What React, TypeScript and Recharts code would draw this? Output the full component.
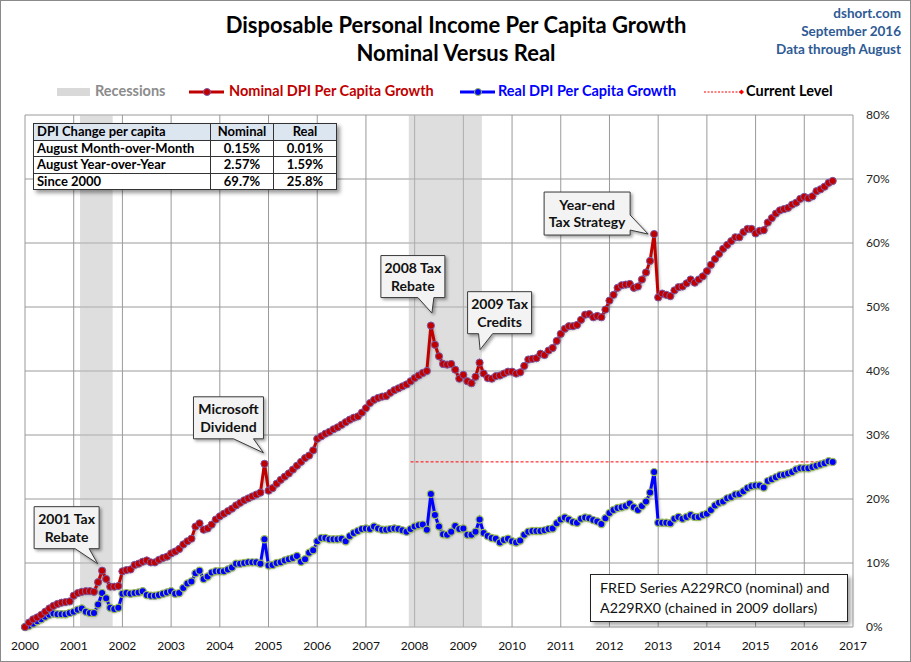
import React from "react";
import {
  ComposedChart,
  Line,
  XAxis,
  YAxis,
  CartesianGrid,
  ReferenceArea,
  ReferenceDot,
} from "recharts";

// % change since Jan 2000, monthly Jan 2000 .. Aug 2016
const nominalGrowth = [
  0, 0.7, 1.2, 1.5, 1.9, 2.4, 2.9, 3.3, 3.6, 3.8, 3.9, 4.0, // 2000
  4.9, 5.3, 5.5, 5.6, 5.6, 5.5, 7.0, 8.8, 7.5, 6.3, 6.3, 6.4, // 2001
  8.7, 8.9, 9.0, 9.7, 9.9, 10.2, 10.4, 10.1, 10.1, 10.5, 10.8, 11.0, // 2002
  11.5, 11.8, 12.2, 12.9, 13.4, 13.8, 15.7, 16.2, 15.2, 15.4, 16.0, 16.8, // 2003
  17.3, 17.7, 18.1, 18.5, 19.0, 19.4, 19.8, 20.1, 20.4, 20.7, 21.0, 25.5, // 2004
  21.3, 21.7, 22.4, 23.0, 23.5, 24.0, 24.6, 25.2, 25.8, 26.4, 26.8, 27.6, // 2005
  29.4, 29.8, 30.2, 30.5, 30.9, 31.2, 31.6, 32.0, 32.4, 32.7, 32.9, 33.5, // 2006
  34.2, 35.0, 35.5, 35.8, 36.0, 36.1, 36.6, 37.0, 37.3, 37.6, 37.9, 38.4, // 2007
  38.9, 39.3, 39.7, 40.0, 47.1, 44.1, 42.3, 41.1, 41.0, 41.1, 40.2, 38.8, // 2008
  39.4, 38.4, 38.1, 39.1, 41.3, 39.6, 38.9, 38.8, 39.2, 39.3, 39.6, 39.9, // 2009
  39.9, 39.6, 39.8, 40.8, 41.8, 41.9, 42.0, 42.7, 42.5, 43.2, 43.6, 44.7, // 2010
  45.8, 46.6, 47.0, 47.0, 47.2, 48.0, 48.8, 48.9, 48.4, 48.6, 48.4, 49.6, // 2011
  51.0, 51.9, 53.0, 53.4, 53.5, 53.6, 53.0, 53.2, 54.3, 55.4, 57.2, 61.4, // 2012
  51.5, 52.1, 51.9, 51.7, 52.6, 53.1, 53.2, 53.7, 54.3, 53.8, 54.3, 54.8, // 2013
  55.6, 56.6, 57.5, 58.3, 59.1, 59.7, 60.3, 60.9, 60.9, 61.7, 62.2, 62.2, // 2014
  61.5, 61.9, 62.0, 63.2, 63.9, 64.6, 65.1, 65.3, 65.5, 66.0, 66.3, 66.9, // 2015
  67.2, 67.0, 67.3, 68.1, 68.4, 68.8, 69.4, 69.7, // 2016
];

const realGrowth = [
  0, 0.2, 0.5, 0.9, 1.2, 1.6, 1.9, 2.1, 2.0, 2.0, 2.0, 2.2, // 2000
  2.4, 2.7, 2.9, 2.4, 2.2, 2.2, 3.5, 5.3, 4.5, 3.0, 2.8, 3.0, // 2001
  5.2, 5.3, 5.2, 5.3, 5.4, 5.6, 5.0, 4.9, 4.9, 5.0, 5.2, 5.4, // 2002
  5.6, 5.2, 5.3, 6.1, 6.8, 7.1, 8.4, 8.8, 7.5, 7.9, 8.5, 8.7, // 2003
  8.7, 8.7, 9.0, 9.3, 9.9, 9.9, 10.0, 10.1, 10.1, 10.1, 9.9, 13.7, // 2004
  9.6, 9.7, 10.0, 10.1, 10.4, 10.6, 10.8, 11.1, 10.2, 10.6, 11.6, 12.0, // 2005
  13.4, 13.9, 13.9, 13.7, 13.7, 13.7, 13.8, 13.4, 14.2, 14.7, 15.0, 15.3, // 2006
  15.4, 15.3, 15.7, 15.4, 15.2, 15.2, 15.3, 15.4, 15.3, 15.1, 14.9, 15.3, // 2007
  15.7, 15.9, 16.0, 15.2, 20.8, 17.5, 15.7, 14.5, 14.4, 14.9, 15.8, 15.3, // 2008
  15.4, 14.4, 14.4, 14.9, 16.8, 14.7, 14.2, 13.9, 13.8, 13.2, 13.6, 13.8, // 2009
  13.4, 13.2, 13.5, 14.4, 14.9, 15.0, 15.0, 15.0, 15.1, 15.3, 15.4, 16.2, // 2010
  16.8, 17.1, 16.8, 16.4, 16.3, 16.9, 17.1, 17.0, 16.7, 16.5, 16.1, 17.0, // 2011
  17.8, 18.3, 18.6, 18.7, 18.9, 19.3, 18.7, 18.3, 18.9, 19.6, 21.0, 24.2, // 2012
  16.3, 16.3, 16.3, 16.2, 16.9, 17.2, 16.9, 17.2, 17.5, 17.2, 17.2, 17.5, // 2013
  17.7, 18.3, 19.0, 19.4, 19.6, 20.1, 20.3, 20.7, 20.8, 21.2, 21.7, 22.0, // 2014
  22.1, 22.1, 21.8, 22.8, 23.1, 23.4, 23.7, 23.8, 24.0, 24.2, 24.6, 24.8, // 2015
  24.8, 24.8, 25.0, 25.2, 25.4, 25.6, 25.9, 25.8, // 2016
];

const START_YEAR = 2000;
const yearTicks = [
  2000, 2001, 2002, 2003, 2004, 2005, 2006, 2007, 2008,
  2009, 2010, 2011, 2012, 2013, 2014, 2015, 2016, 2017,
];
const pctTicks = [0, 10, 20, 30, 40, 50, 60, 70, 80];

const recessions = [
  { from: 2001.13, to: 2001.8 },
  { from: 2007.88, to: 2009.38 },
];

// real level since 2000, drawn from the start of the 2008 recession
const currentLevel = 25.8;
const currentFrom = 2007 + 11 / 12;

const tableHeader = ["DPI Change per capita", "Nominal", "Real"];
const tableRows = [
  ["August Month-over-Month", "0.15%", "0.01%"],
  ["August Year-over-Year", "2.57%", "1.59%"],
  ["Since 2000", "69.7%", "25.8%"],
];

// index = months since Jan 2000
const callouts = [
  { lines: ["2001 Tax", "Rebate"], key: "nominal", index: 19, dx: -68, dy: -64, w: 65, h: 42, side: "bottom", base: [41, 55], tip: [-4.5, -7] },
  { lines: ["Microsoft", "Dividend"], key: "nominal", index: 59, dx: -71, dy: -67, w: 70, h: 42, side: "bottom", base: [40, 60], tip: [-1, -11] },
  { lines: ["2008 Tax", "Rebate"], key: "nominal", index: 100, dx: -50, dy: -70, w: 64, h: 42, side: "bottom", base: [37, 53], tip: [1, -12.5] },
  { lines: ["2009 Tax", "Credits"], key: "nominal", index: 112, dx: -12, dy: -71, w: 64, h: 42, side: "bottom", base: [11, 25], tip: [0.5, -13] },
  { lines: ["Year-end", "Tax Strategy"], key: "nominal", index: 155, dx: -110, dy: -42, w: 86, h: 43, side: "right", base: [23, 38], tip: [-6, 0] },
];

const FONT = 'Lato, "Open Sans", sans-serif';
const RED = "#c00000";
const BLUE = "#0000ff";

const data = nominalGrowth.map((v, i) => ({
  t: START_YEAR + i / 12,
  nominal: v,
  real: realGrowth[i],
}));

const currentData = [
  { t: currentFrom, current: currentLevel },
  { t: data[data.length - 1].t, current: currentLevel },
];

function Callout(props: any) {
  const { cx, cy, spec } = props;
  const bx = cx + spec.dx;
  const by = cy + spec.dy;
  const { w, h } = spec;
  const tx = cx + spec.tip[0];
  const ty = cy + spec.tip[1];
  const d =
    spec.side === "bottom"
      ? `M${bx},${by} H${bx + w} V${by + h} H${bx + spec.base[1]} L${tx},${ty} L${bx + spec.base[0]},${by + h} H${bx} Z`
      : `M${bx},${by} H${bx + w} V${by + spec.base[0]} L${tx},${ty} L${bx + w},${by + spec.base[1]} V${by + h} H${bx} Z`;
  return (
    <g>
      <path
        d={d}
        fill="#f3f3f3"
        stroke="#3a3a3a"
        strokeWidth={1}
        style={{ filter: "drop-shadow(2px 2px 1.5px rgba(0,0,0,0.35))" }}
      />
      {spec.lines.map((l: string, k: number) => (
        <text
          key={k}
          x={bx + w / 2}
          y={by + 17.5 + k * 17.5}
          textAnchor="middle"
          fontFamily={FONT}
          fontWeight={700}
          fontSize={14}
          fill="#111"
        >
          {l}
        </text>
      ))}
    </g>
  );
}

function Header() {
  return (
    <svg
      width={911}
      height={110}
      style={{ position: "absolute", left: 0, top: 0, pointerEvents: "none" }}
    >
      <g fontFamily={FONT} fontWeight={700}>
        <text x={455} y={32} textAnchor="middle" fontSize={22} fill="#000">
          Disposable Personal Income Per Capita Growth
        </text>
        <text x={455} y={60} textAnchor="middle" fontSize={22} fill="#000">
          Nominal Versus Real
        </text>
        <g fill="#2e5a94" fontSize={13.5} textAnchor="end">
          <text x={900} y={17}>dshort.com</text>
          <text x={900} y={35}>September 2016</text>
          <text x={900} y={53}>Data through August</text>
        </g>
        {/* legend */}
        <g fontSize={14.5}>
          <rect x={56} y={87} width={33} height={8} fill="#d9d9d9" />
          <text x={94} y={95} fill="#8c8c8c">Recessions</text>
          <line x1={188} x2={223} y1={91} y2={91} stroke={RED} strokeWidth={3} />
          <circle cx={206} cy={91} r={3.5} fill={RED} stroke="#7b5aa6" />
          <text x={228} y={95} fill={RED}>Nominal DPI Per Capita Growth</text>
          <line x1={459} x2={494} y1={91} y2={91} stroke={BLUE} strokeWidth={3} />
          <circle cx={477} cy={91} r={3.5} fill={BLUE} stroke="#9bbb59" />
          <text x={497} y={95} fill={BLUE}>Real DPI Per Capita Growth</text>
          <line x1={703} x2={739} y1={91} y2={91} stroke="#ff0000" strokeWidth={1} strokeDasharray="2 1.5" />
          <path d="M740.5,88.5 L743,91 L740.5,93.5 L738,91 Z" fill="#ff0000" />
          <text x={745} y={95} fill="#000">Current Level</text>
        </g>
      </g>
    </svg>
  );
}

function StatsTable() {
  const cell: React.CSSProperties = {
    border: "1px solid #333",
    height: 15.5,
    padding: "0 3px",
    lineHeight: "15.5px",
    whiteSpace: "nowrap",
  };
  return (
    <table
      style={{
        position: "absolute",
        left: 32,
        top: 122,
        borderCollapse: "collapse",
        border: "1.5px solid #1a1a1a",
        background: "#fff",
        boxShadow: "3px 3px 4px rgba(0,0,0,0.4)",
        fontFamily: FONT,
        fontWeight: 700,
        fontSize: 13,
        color: "#000",
      }}
    >
      <tbody>
        <tr style={{ background: "#dce6f1" }}>
          <td style={{ ...cell, width: 170 }}>{tableHeader[0]}</td>
          <td style={{ ...cell, width: 56, textAlign: "center" }}>{tableHeader[1]}</td>
          <td style={{ ...cell, width: 56, textAlign: "center" }}>{tableHeader[2]}</td>
        </tr>
        {tableRows.map((r) => (
          <tr key={r[0]}>
            <td style={cell}>{r[0]}</td>
            <td style={{ ...cell, textAlign: "center" }}>{r[1]}</td>
            <td style={{ ...cell, textAlign: "center" }}>{r[2]}</td>
          </tr>
        ))}
      </tbody>
    </table>
  );
}

export default function App() {
  return (
    <div
      style={{
        position: "absolute",
        left: 0,
        top: 0,
        width: 911,
        height: 662,
        boxSizing: "border-box",
        border: "1px solid #8a8a8a",
        background: "#fff",
        overflow: "hidden",
      }}
    >
      <style>{`.shadowed { filter: drop-shadow(1px 2px 1.5px rgba(0,0,0,0.3)); }`}</style>
      <div style={{ position: "absolute", left: -1, top: -1 }}>
        <ComposedChart
          width={911}
          height={662}
          data={data}
          margin={{ top: 115, right: 0, bottom: 0, left: 25 }}
        >
          <CartesianGrid stroke="#9a9a9a" strokeWidth={1} />
          <XAxis
            dataKey="t"
            type="number"
            domain={[2000, 2017]}
            ticks={yearTicks}
            interval={0}
            axisLine={false}
            tickLine={false}
            height={35}
            tickSize={6}
            tickMargin={8}
            tick={{ fontFamily: FONT, fontSize: 12, fill: "#111" }}
          />
          <YAxis
            orientation="right"
            domain={[0, 80]}
            ticks={pctTicks}
            interval={0}
            width={58}
            axisLine={false}
            tickLine={false}
            tickSize={6}
            tickMargin={7}
            tickFormatter={(v) => `${v}%`}
            tick={{ fontFamily: FONT, fontSize: 12, fill: "#222" }}
          />
          {recessions.map((r) => (
            <ReferenceArea
              key={r.from}
              x1={r.from}
              x2={r.to}
              y1={0}
              y2={80}
              fill="#bdbdbd"
              fillOpacity={0.5}
              stroke="none"
            />
          ))}
          <Line
            data={currentData}
            dataKey="current"
            stroke="#ff0000"
            strokeWidth={1}
            strokeDasharray="3 2"
            isAnimationActive={false}
            dot={(p: any) =>
              p.index === currentData.length - 1 ? (
                <circle key="cur" cx={p.cx} cy={p.cy} r={3.5} fill="#ff0000" />
              ) : (
                <g key={`c${p.index}`} />
              )
            }
          />
          <Line
            className="shadowed"
            dataKey="real"
            stroke={BLUE}
            strokeWidth={3}
            isAnimationActive={false}
            dot={{ r: 3.6, fill: BLUE, stroke: "#9bbb59", strokeWidth: 1.2 }}
          />
          <Line
            className="shadowed"
            dataKey="nominal"
            stroke={RED}
            strokeWidth={3}
            isAnimationActive={false}
            dot={{ r: 3.6, fill: RED, stroke: "#7b5aa6", strokeWidth: 1 }}
          />
          {callouts.map((c) => (
            <ReferenceDot
              key={c.lines.join(" ")}
              x={data[c.index].t}
              y={(data[c.index] as any)[c.key]}
              r={0}
              ifOverflow="visible"
              shape={(p: any) => <Callout {...p} spec={c} />}
            />
          ))}
        </ComposedChart>
      </div>
      <Header />
      <StatsTable />
      <div
        style={{
          position: "absolute",
          left: 589,
          top: 573,
          width: 258,
          height: 48,
          boxSizing: "border-box",
          border: "1px solid #222",
          background: "#fff",
          boxShadow: "3px 3px 4px rgba(0,0,0,0.35)",
          fontFamily: FONT,
          fontSize: 14.3,
          lineHeight: "20px",
          padding: "3px 0 0 9px",
          color: "#111",
          whiteSpace: "nowrap",
        }}
      >
        FRED Series A229RC0 (nominal) and
        <br />
        A229RX0 (chained in 2009 dollars)
      </div>
    </div>
  );
}
